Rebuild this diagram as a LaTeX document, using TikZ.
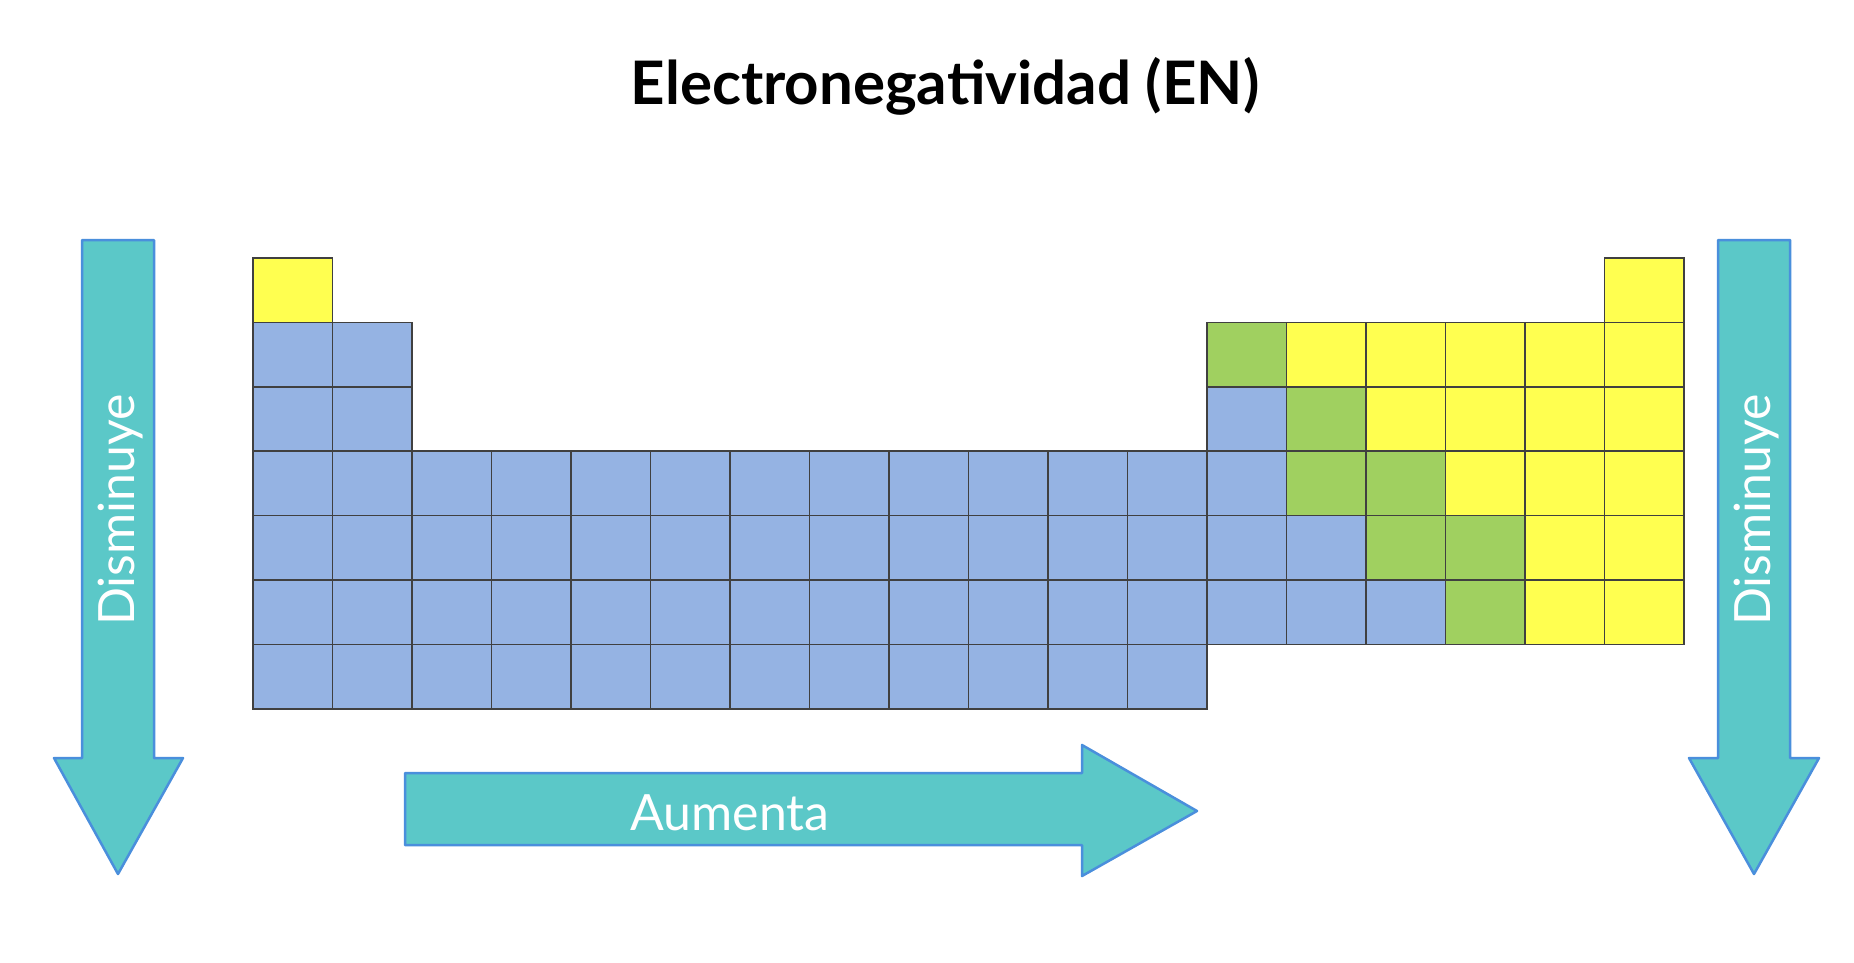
\documentclass[tikz,border=0pt]{standalone}
\usepackage{fontspec}
\setmainfont{Lato}
\newfontfamily\titlefont{Lato Bold}
\begin{document}
\begin{tikzpicture}[x=1pt,y=-1pt,
  cell/.style={draw=black!75,line width=1.6pt},
  bigarrow/.style={fill=arrteal,draw=arrblue,line width=2.5pt,line join=round},
  lbl/.style={text=white,font=\fontsize{50}{50}\selectfont,inner sep=0pt}]
\definecolor{cb}{HTML}{95B3E3}
\definecolor{cy}{HTML}{FFFF50}
\definecolor{cg}{HTML}{A0D060}
\definecolor{arrteal}{HTML}{5BC8C8}
\definecolor{arrblue}{HTML}{4A8FDC}
\useasboundingbox (0,0) rectangle (1854,962);
\fill[white] (0,0) rectangle (1854,962);
\node[font=\titlefont\fontsize{60}{60}\selectfont,inner sep=0pt] (title) at (945,86) {Electronegatividad (EN)};
% cells: row, from col, to col, colour
\foreach \r/\a/\b/\c in {1/1/1/cy,1/18/18/cy,
  2/1/2/cb,2/13/13/cg,2/14/18/cy,
  3/1/2/cb,3/13/13/cb,3/14/14/cg,3/15/18/cy,
  4/1/13/cb,4/14/15/cg,4/16/18/cy,
  5/1/14/cb,5/15/16/cg,5/17/18/cy,
  6/1/15/cb,6/16/16/cg,6/17/18/cy,
  7/1/12/cb}{
  \foreach \k in {\a,...,\b}{
    \draw[cell,fill=\c] ({253+(\k-1)*79.5},{258+(\r-1)*64.4}) rectangle ++(79.5,64.4);
  }
}
% left arrow
\draw[bigarrow] (82,240) -- (154,240) -- (154,758) -- (183,758) -- (118,874) -- (54,758) -- (82,758) -- cycle;
\node[lbl,rotate=90] (dl) at (121,510) {Disminuye};
% right arrow
\draw[bigarrow] (1718,240) -- (1790,240) -- (1790,758) -- (1819,758) -- (1754,874) -- (1689,758) -- (1718,758) -- cycle;
\node[lbl,rotate=90] (dr) at (1757,510) {Disminuye};
% horizontal arrow
\draw[bigarrow] (405,773) -- (1082,773) -- (1082,745) -- (1197,811) -- (1082,876) -- (1082,845) -- (405,845) -- cycle;
\node[lbl] (au) at (730,813) {Aumenta};
\end{tikzpicture}
\end{document}
